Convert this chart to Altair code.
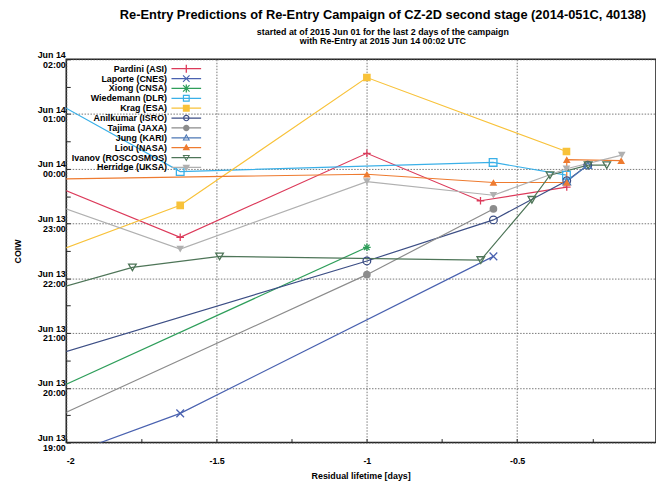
import altair as alt
import pandas as pd

series = ["Pardini (ASI)", "Laporte (CNES)", "Xiong (CNSA)", "Wiedemann (DLR)", "Krag (ESA)",
          "Anilkumar (ISRO)", "Tajima (JAXA)", "Jung (KARI)", "Liou (NASA)",
          "Ivanov (ROSCOSMOS)", "Herridge (UKSA)"]
colors = ["#dc3a5a", "#4a62b0", "#2e9e5a", "#3ab0e8", "#f8c23a",
          "#3c4e85", "#8c8c8c", "#4d78b5", "#ee7b30", "#4e7558", "#b0b0b0"]
shapes = ["M-1,0H1M0,-1V1", "M-1,-1L1,1M-1,1L1,-1",
          "M-1,0H1M0,-1V1M-0.7,-0.7L0.7,0.7M-0.7,0.7L0.7,-0.7",
          "square", "square", "circle", "circle", "triangle-up", "triangle-up",
          "triangle-down", "triangle-down"]
filled = [False, False, False, False, True, False, True, False, True, False, True]

# residual lifetime [days] and predicted re-entry epoch ("day hh:mm", June 2015, UTC)
pardini_x = [-2.2, -1.621, -1.0, -0.622, -0.335]
pardini_t = ["14 00:03", "13 22:45", "14 00:17", "13 23:25", "13 23:40"]
laporte_x = [-2.2, -1.621, -0.579]
laporte_t = ["13 18:22", "13 19:32", "13 22:24"]
xiong_x = [-2.2, -1.0]
xiong_t = ["13 19:34", "13 22:34"]
wiedemann_x = [-2.2, -1.621, -0.580, -0.336]
wiedemann_t = ["14 01:43", "13 23:57", "14 00:07", "13 23:53"]
krag_x = [-2.2, -1.621, -1.0, -0.336]
krag_t = ["13 22:09", "13 23:20", "14 01:40", "14 00:19"]
anilkumar_x = [-2.2, -1.0, -0.579, -0.335, -0.265]
anilkumar_t = ["13 20:20", "13 22:19", "13 23:04", "13 23:47", "14 00:04"]
tajima_x = [-2.2, -1.0, -0.579]
tajima_t = ["13 19:03", "13 22:04", "13 23:16"]
jung_x = [-0.335, -0.265]
jung_t = ["13 23:46", "14 00:04"]
liou_x = [-2.2, -1.0, -0.579, -0.335, -0.335, -0.154]
liou_t = ["13 23:48", "13 23:54", "13 23:45", "13 23:45", "14 00:10", "14 00:09"]
ivanov_x = [-2.2, -1.78, -1.49, -0.621, -0.451, -0.391, -0.264, -0.202]
ivanov_t = ["13 21:33", "13 22:12", "13 22:24", "13 22:20", "13 23:26", "13 23:53", "14 00:04", "14 00:04"]
herridge_x = [-2.2, -1.621, -1.0, -0.579, -0.336, -0.152]
herridge_t = ["13 23:39", "13 22:32", "13 23:46", "13 23:31", "14 00:00", "14 00:15"]

all_x = [pardini_x, laporte_x, xiong_x, wiedemann_x, krag_x, anilkumar_x,
         tajima_x, jung_x, liou_x, ivanov_x, herridge_x]
all_t = [pardini_t, laporte_t, xiong_t, wiedemann_t, krag_t, anilkumar_t,
         tajima_t, jung_t, liou_t, ivanov_t, herridge_t]

# legend key glyphs: a short line with the series marker (filled outlines, unit = 1 px)
BAR = "M-15,-0.65H15V0.65H-15Z"
VBAR = "M-0.65,-4H0.65V4H-0.65Z"
XBAR = "M-2.9,-3.7L3.7,2.9L2.9,3.7L-3.7,-2.9Z M2.9,-3.7L3.7,-2.9L-2.9,3.7L-3.7,2.9Z"
SQ = "M-3.5,-3.5H3.5V3.5H-3.5Z"
SQ_IN = "M-2.3,-2.3V2.3H2.3V-2.3Z"
CI = "M3.3,0A3.3,3.3,0,1,1,-3.3,0A3.3,3.3,0,1,1,3.3,0Z"
CI_IN = "M2.1,0A2.1,2.1,0,1,0,-2.1,0A2.1,2.1,0,1,0,2.1,0Z"
TU = "M0,-4L3.8,2.7H-3.8Z"
TU_IN = "M0,-1.9L-2.1,1.6H2.1Z"
TD = "M0,4L-3.8,-2.7H3.8Z"
TD_IN = "M0,1.9L2.1,-1.6H-2.1Z"
legend_keys = [BAR + VBAR, BAR + XBAR, BAR + VBAR + XBAR, BAR + SQ + SQ_IN, BAR + SQ,
               BAR + CI + CI_IN, BAR + CI, BAR + TU + TU_IN, BAR + TU,
               BAR + TD + TD_IN, BAR + TD]


def to_hours(t):
    day, hm = t.split()
    hh, mm = hm.split(":")
    return (int(day) - 14) * 24 + int(hh) + int(mm) / 60.0


rows = []
for s, xs, ts in zip(series, all_x, all_t):
    for i, (xv, tv) in enumerate(zip(xs, ts)):
        rows.append({"series": s, "x": xv, "h": to_hours(tv), "i": i})
df = pd.DataFrame(rows)

FONT = "Liberation Sans"
XMAX = -2 + 597 / 304.3

x_ticks = [-2 + 0.25 * k for k in range(8)]
y_ticks = [-5 + 0.5 * k for k in range(15)]

x_enc = alt.X(
    "x:Q",
    scale=alt.Scale(domain=[-2, XMAX], nice=False, zero=False),
    axis=alt.Axis(
        values=x_ticks,
        labelExpr="abs(datum.value*2 - round(datum.value*2)) < 0.001 ? '' + datum.value : ''",
        title="Residual lifetime [days]",
        titleX=298, titleY=33, titleBaseline="middle",
        gridOpacity={"condition": {"test": "abs(datum.value*2 - round(datum.value*2)) < 0.001", "value": 1}, "value": 0},
        labelPadding=18,
    ),
)
y_enc = alt.Y(
    "h:Q",
    scale=alt.Scale(domain=[-5, 2], nice=False, zero=False),
    axis=alt.Axis(
        values=y_ticks,
        labelExpr="abs(datum.value - round(datum.value)) < 0.001 ? [datum.value >= 0 ? 'Jun 14' : 'Jun 13', format((datum.value + 24) % 24, '02d') + ':00'] : ''",
        title="COIW",
        titleX=-49, titleY=194, titleAngle=-90, titleBaseline="middle", titleAlign="center",
        gridOpacity={"condition": {"test": "abs(datum.value - round(datum.value)) < 0.001", "value": 1}, "value": 0},
        labelPadding=5,
        labelAlign="right",
        labelBaseline="middle",
        labelLineHeight=10,
        labelOffset=alt.ExprRef(expr="-5"),
    ),
)
leg = alt.Legend(
    title=None, orient="none", legendX=117, legendY=5,
    symbolSize=4, symbolStrokeWidth=0,
    labelAlign="right", labelOffset=alt.ExprRef(expr="-24"),
    labelFont=FONT, labelFontWeight="bold", labelFontSize=9, labelColor="black",
    rowPadding=0, padding=0,
)
color = alt.Color("series:N", scale=alt.Scale(domain=series, range=colors), legend=leg)
legend_shape = alt.Shape("series:N", scale=alt.Scale(domain=series, range=legend_keys), legend=leg)

base = alt.Chart(df)
key_layer = base.transform_filter("false").mark_point(filled=True, opacity=1).encode(
    x=x_enc, y=y_enc, color=color, shape=legend_shape)
lines = base.mark_line(strokeWidth=1.2, clip=True).encode(x=x_enc, y=y_enc, color=color, order="i:Q")

marker_layers = []
for s, shp, f in zip(series, shapes, filled):
    if f:
        kw = dict(shape=shp, filled=True, size=60, opacity=1, clip=True)
    else:
        kw = dict(shape=shp, filled=False, size=60, strokeWidth=1.3, opacity=1, clip=True)
    marker_layers.append(
        base.transform_filter(alt.datum.series == s).mark_point(**kw).encode(x=x_enc, y=y_enc, color=color)
    )

chart = alt.layer(key_layer, lines, *marker_layers).properties(
    width=597, height=388,
    autosize=alt.AutoSizeParams(type="none"),
    padding={"left": 59, "top": 49, "right": 0, "bottom": 37},
    title=alt.Title(
        text="Re-Entry Predictions of Re-Entry Campaign of CZ-2D second stage (2014-051C, 40138)",
        subtitle=["started at of 2015 Jun 01 for the last 2 days of the campaign",
                  "with Re-Entry at 2015 Jun 14 00:02 UTC"],
        font=FONT, fontSize=13, fontWeight="bold", color="black",
        subtitleFont=FONT, subtitleFontSize=9, subtitleFontWeight="bold", subtitleColor="black",
        subtitleLineHeight=10, subtitlePadding=6,
        anchor="middle", dx=22, offset=4, frame="group",
    ),
).configure_view(stroke="#222", strokeWidth=1.6).configure_axis(
    labelFont=FONT, labelFontWeight="bold", labelFontSize=9, labelColor="black",
    titleFont=FONT, titleFontWeight="bold", titleFontSize=9, titleColor="black",
    gridColor="#555", gridDash=[1.5, 1.5], gridWidth=0.8,
    tickColor="#222", tickSize=alt.ExprRef(expr="-4"), domain=False,
)

chart.save("out.html", embed_options={"renderer": "svg", "actions": False})
